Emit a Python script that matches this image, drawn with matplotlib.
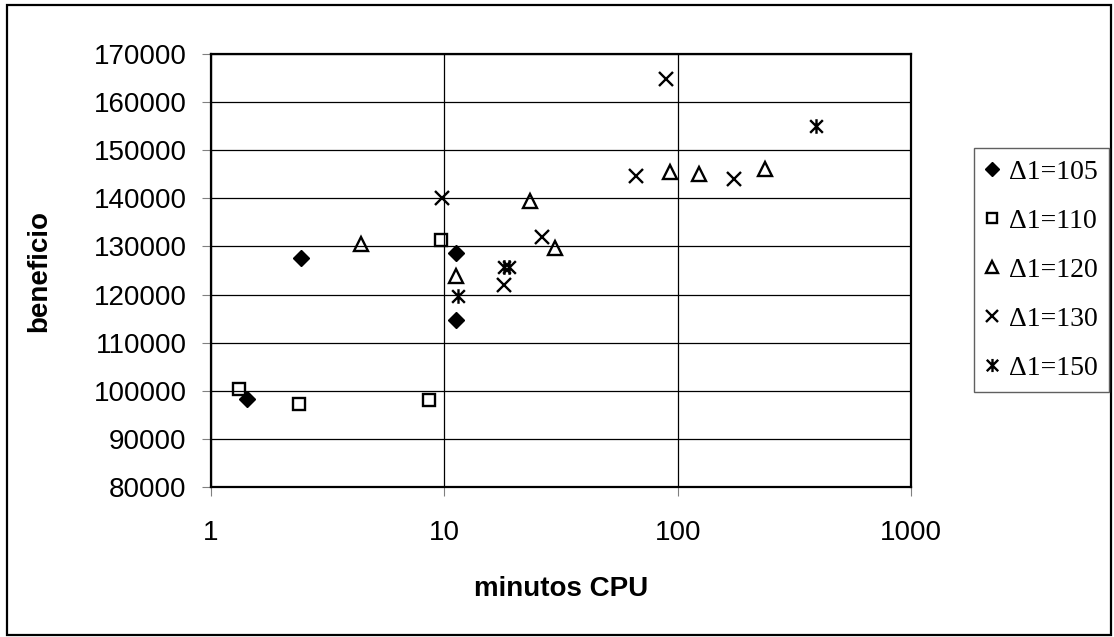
import numpy as np
import matplotlib.pyplot as plt
from matplotlib.path import Path
from matplotlib.patches import Rectangle
from matplotlib.ticker import FixedLocator, NullLocator, FuncFormatter

# Datos (minutos CPU, beneficio)
x_105 = [1.43, 2.43, 11.2, 11.2]
y_105 = [98200, 127700, 128700, 114700]

x_110 = [1.32, 2.39, 8.6, 9.66]
y_110 = [100400, 97200, 98000, 131300]

x_120 = [4.41, 11.2, 23.3, 29.8, 93.0, 123, 237]
y_120 = [130500, 123900, 139400, 129600, 145500, 145100, 146000]

x_130 = [9.75, 18.1, 26.1, 66.6, 89.5, 174]
y_130 = [140000, 121900, 131900, 144600, 164800, 144100]

x_150 = [11.5, 18.0, 18.9, 390]
y_150 = [119600, 125800, 125800, 155000]

etiquetas = ["\u03941=105", "\u03941=110", "\u03941=120", "\u03941=130", "\u03941=150"]

x_ticks = [1, 10, 100, 1000]
y_ticks = list(range(80000, 170001, 10000))

# Marcador tipo "estrella" de Excel: una X con una barra vertical
estrella = Path([(-1, -1), (1, 1), (-1, 1), (1, -1), (0, -1.15), (0, 1.15)],
                [Path.MOVETO, Path.LINETO, Path.MOVETO, Path.LINETO, Path.MOVETO, Path.LINETO])

plt.rcParams['font.family'] = ['Liberation Sans', 'DejaVu Sans']

fig = plt.figure(figsize=(11.14, 6.37), dpi=100)
ax = fig.add_axes([211 / 1114, 1 - 487 / 637, 700 / 1114, 433 / 637])

ax.plot(x_105, y_105, linestyle='none', marker='D', markersize=7.8, color='black', label=etiquetas[0])
ax.plot(x_110, y_110, linestyle='none', marker='s', markersize=8, markerfacecolor='none',
        markeredgecolor='black', markeredgewidth=1.7, label=etiquetas[1])
ax.plot(x_120, y_120, linestyle='none', marker='^', markersize=9.5, markerfacecolor='none',
        markeredgecolor='black', markeredgewidth=1.7, label=etiquetas[2])
ax.plot(x_130, y_130, linestyle='none', marker='x', markersize=10,
        markeredgecolor='black', markeredgewidth=1.7, label=etiquetas[3])
ax.plot(x_150, y_150, linestyle='none', marker=estrella, markersize=10.5, markerfacecolor='none',
        markeredgecolor='black', markeredgewidth=1.7, label=etiquetas[4])

ax.set_xscale('log')
ax.set_xlim(1, 1000)
ax.set_ylim(80000, 170000)
ax.xaxis.set_major_locator(FixedLocator(x_ticks))
ax.xaxis.set_minor_locator(NullLocator())
ax.xaxis.set_major_formatter(FuncFormatter(lambda v, p: "%d" % v))
ax.yaxis.set_major_locator(FixedLocator(y_ticks))

ax.grid(True, color='black', linewidth=0.9)
ax.set_axisbelow(True)
for s in ax.spines.values():
    s.set_linewidth(1.6)
    s.set_color('black')

ax.tick_params(axis='both', which='major', direction='out', length=6.5, width=0.8,
               color='#808080', labelsize=20)
ax.tick_params(axis='y', pad=11)
ax.tick_params(axis='x', pad=17)

ax.set_xlabel("minutos CPU", fontsize=20, fontweight='bold', labelpad=22)
ax.set_ylabel("beneficio", fontsize=20, fontweight='bold', labelpad=30)

leg = fig.legend(loc='upper left', bbox_to_anchor=(974 / 1114, 1 - 148 / 637),
                 prop={'family': ['Liberation Serif', 'DejaVu Serif'], 'size': 20},
                 frameon=True, fancybox=False, edgecolor='#606060', framealpha=1,
                 handlelength=0.5, handletextpad=0.35, labelspacing=0.85,
                 borderpad=0.4, borderaxespad=0, markerscale=0.9)
leg.get_frame().set_linewidth(1.0)

# Borde exterior de la figura
fig.patches.append(Rectangle((7 / 1114, 2 / 637), 1104 / 1114, 630 / 637,
                             transform=fig.transFigure, fill=False,
                             edgecolor='black', linewidth=1.6))

fig.savefig("out.png", dpi=100)
